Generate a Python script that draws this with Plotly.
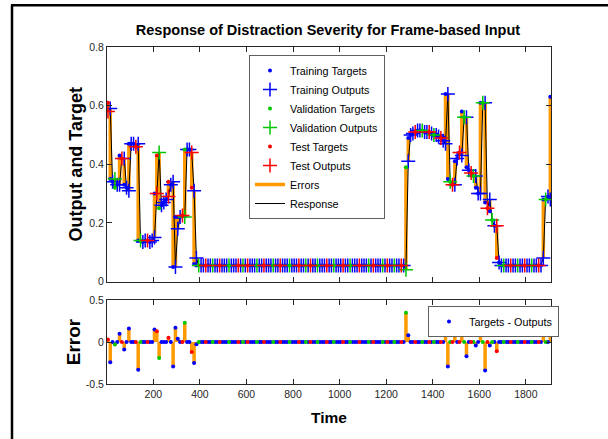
import numpy as np
import plotly.graph_objects as go

# ---------------- data ----------------
time_start = 5
time_step = 10

# target severity, one value every 10 time steps (t = 5, 15, ..., 1905)
target = [
    0.61, 0.35, 0.34, 0.32, 0.33, 0.43, 0.42, 0.33, 0.32, 0.47,
    0.47, 0.47, 0.46, 0.14, 0.14, 0.135, 0.14, 0.14, 0.135, 0.14,
    0.30, 0.43, 0.25, 0.26, 0.27, 0.28, 0.34, 0.33, 0.05, 0.22,
    0.22, 0.22, 0.225, 0.45, 0.45, 0.45, 0.32, 0.06, 0.055, 0.055,
    0.055, 0.055, 0.055, 0.055, 0.055, 0.055, 0.055, 0.055, 0.055, 0.055,
    0.055, 0.055, 0.055, 0.055, 0.055, 0.055, 0.055, 0.055, 0.055, 0.055,
    0.055, 0.055, 0.055, 0.055, 0.055, 0.055, 0.055, 0.055, 0.055, 0.055,
    0.055, 0.055, 0.055, 0.055, 0.055, 0.055, 0.055, 0.055, 0.055, 0.055,
    0.055, 0.055, 0.055, 0.055, 0.055, 0.055, 0.055, 0.055, 0.055, 0.055,
    0.055, 0.055, 0.055, 0.055, 0.055, 0.055, 0.055, 0.055, 0.055, 0.055,
    0.055, 0.055, 0.055, 0.055, 0.055, 0.055, 0.055, 0.055, 0.055, 0.055,
    0.055, 0.055, 0.055, 0.055, 0.055, 0.055, 0.055, 0.055, 0.055, 0.055,
    0.055, 0.055, 0.055, 0.055, 0.055, 0.055, 0.055, 0.055, 0.39, 0.49,
    0.50, 0.505, 0.51, 0.515, 0.515, 0.515, 0.51, 0.51, 0.51, 0.505,
    0.50, 0.50, 0.495, 0.49, 0.48, 0.64, 0.35, 0.34, 0.33, 0.41,
    0.42, 0.44, 0.58, 0.56, 0.39, 0.38, 0.37, 0.36, 0.32, 0.30,
    0.61, 0.61, 0.27, 0.25, 0.24, 0.21, 0.19, 0.08, 0.065, 0.055,
    0.055, 0.055, 0.055, 0.055, 0.055, 0.055, 0.055, 0.055, 0.055, 0.055,
    0.055, 0.055, 0.055, 0.055, 0.055, 0.055, 0.055, 0.28, 0.28, 0.29,
    0.63,
]

# data split of each sample: b = training, g = validation, r = test
split = (
    "rbbgbbrbbb" "bbrbgbbrbb" "brgbbbrbbb" "bbrgbbrbbg" "bbrbbgbbrb"
    "bbgbbbrbgb" "rbbbgbbrbb" "bgbbrbbbgb" "bbrbbgbrbb" "gbbbrbbgbb"
    "brbbgbbbrb" "bbgbrbbbgb" "rbbgbbrbgb" "bbrbbgbbrb" "gbbrbbbgrb"
    "brbgbbrgbb" "bgbrbgbrbb" "gbbrbbgbbr" "bbgbbrbbgb" "b"
)

# non-zero errors (target - output)
error_times = [5, 15, 35, 55, 75, 95, 135, 205, 215, 225, 265, 285, 295, 305,
               335, 365, 375, 385, 1285, 1295, 1455, 1465, 1495, 1525, 1545,
               1585, 1605, 1625, 1645, 1675, 1875, 1905]
error_values = [0.03, -0.24, -0.03, 0.10, -0.09, 0.16, -0.33, 0.15, 0.13, -0.19,
                0.05, -0.29, 0.17, 0.04, 0.23, -0.12, -0.25, -0.025, 0.35, 0.08,
                0.17, -0.29, 0.08, 0.15, -0.17, -0.04, 0.31, -0.34, -0.04, -0.11,
                0.20, 0.35]

set_names = {"b": "Training", "g": "Validation", "r": "Test"}
set_colors = {"b": "#0000ff", "g": "#00c800", "r": "#ff0000"}
x_ticks = [200, 400, 600, 800, 1000, 1200, 1400, 1600, 1800]
y1_ticks = [0, 0.2, 0.4, 0.6, 0.8]
y1_labels = ["0", "0.2", "0.4", "0.6", "0.8"]
y2_ticks = [-0.5, 0, 0.5]
y2_labels = ["-0.5", "0", "0.5"]

# ---------------- derived ----------------
target = np.array(target)
t = time_start + time_step * np.arange(len(target))
err = np.zeros(len(target))
for et, ev in zip(error_times, error_values):
    err[(et - time_start) // time_step] = ev
output = target - err
sets = np.array(list(split))

ORANGE = "#ff9a00"
AX = "#262626"
FONT = "Liberation Sans, Arial, sans-serif"

fig = go.Figure()

# errors (orange) in the response plot
nz = err != 0
ex, ey = [], []
for ti, ta, ou in zip(t[nz], target[nz], output[nz]):
    ex += [ti, ti, None]
    ey += [ta, ou, None]
fig.add_trace(go.Scatter(x=ex, y=ey, mode="lines", line=dict(color=ORANGE, width=3.5),
                         name="Errors", legendrank=7, xaxis="x", yaxis="y"))
# response line (black)
fig.add_trace(go.Scatter(x=t, y=output, mode="lines", line=dict(color="black", width=1),
                         name="Response", legendrank=8, xaxis="x", yaxis="y"))

rank = 1
for key in ["b", "g", "r"]:
    m = sets == key
    c = set_colors[key]
    fig.add_trace(go.Scatter(x=t[m], y=target[m], mode="markers",
                             marker=dict(color=c, size=4),
                             name=f"{set_names[key]} Targets", legendrank=rank,
                             xaxis="x", yaxis="y"))
    fig.add_trace(go.Scatter(x=t[m], y=output[m], mode="markers",
                             marker=dict(symbol="cross-thin", size=10,
                                         line=dict(color=c, width=1.5)),
                             name=f"{set_names[key]} Outputs", legendrank=rank + 1,
                             xaxis="x", yaxis="y"))
    rank += 2

# error plot
sx, sy = [], []
for ti, e in zip(t[nz], err[nz]):
    sx += [ti, ti, None]
    sy += [0, e, None]
fig.add_trace(go.Scatter(x=sx, y=sy, mode="lines", line=dict(color=ORANGE, width=3.5),
                         showlegend=False, xaxis="x2", yaxis="y2"))
for key in ["b", "g", "r"]:
    m = sets == key
    fig.add_trace(go.Scatter(x=t[m], y=err[m], mode="markers",
                             marker=dict(color=set_colors[key], size=4),
                             name="Targets - Outputs", showlegend=(key == "b"),
                             legend="legend2", xaxis="x2", yaxis="y2"))

axis_common = dict(range=[1, 1908], tickvals=x_ticks, ticks="inside", ticklen=5,
                   tickcolor=AX, linecolor=AX, linewidth=1, mirror="allticks",
                   showgrid=False, zeroline=False,
                   tickfont=dict(family=FONT, size=10.5, color=AX))

fig.update_layout(
    width=608, height=439,
    margin=dict(l=107, r=57, t=47, b=55, autoexpand=False),
    paper_bgcolor="white", plot_bgcolor="white",
    title=dict(text="<b>Response of Distraction Severity for Frame-based Input</b>",
               x=(328 - 107) / 444, xref="paper", xanchor="center",
               y=(439 - 30) / 439, yanchor="middle",
               font=dict(family=FONT, size=14.5, color="black")),
    xaxis=dict(**axis_common, anchor="y", showticklabels=False),
    xaxis2=dict(**axis_common, anchor="y2",
                title=dict(text="<b>Time</b>", standoff=13,
                           font=dict(family=FONT, size=15.5, color="black"))),
    yaxis=dict(domain=[0.304, 1], range=[0, 0.8], tickvals=y1_ticks, ticktext=y1_labels,
               ticks="inside", ticklen=5, tickcolor=AX, linecolor=AX, linewidth=1,
               mirror="allticks", showgrid=False, zeroline=False,
               tickfont=dict(family=FONT, size=10.5, color=AX),
               title=dict(text="<b>Output and Target</b>", standoff=1,
                          font=dict(family=FONT, size=18, color="black"))),
    yaxis2=dict(domain=[0, 0.249], range=[-0.5, 0.5], tickvals=y2_ticks, ticktext=y2_labels,
                ticks="inside", ticklen=5, tickcolor=AX, linecolor=AX, linewidth=1,
                mirror="allticks", showgrid=False, zeroline=False,
                tickfont=dict(family=FONT, size=10.5, color=AX),
                title=dict(text="<b>Error</b>", standoff=0,
                           font=dict(family=FONT, size=19, color="black"))),
    legend=dict(x=(249 - 107) / 444, y=(384 - 55) / 337, xanchor="left", yanchor="top",
                bgcolor="white", bordercolor="#606060", borderwidth=1,
                font=dict(family=FONT, size=10.8, color="black"),
                tracegroupgap=0, itemwidth=30),
    legend2=dict(x=(428 - 107) / 444, y=(384 - 306) / 337, xanchor="left", yanchor="top",
                 bgcolor="white", bordercolor="#606060", borderwidth=1,
                 font=dict(family=FONT, size=10.8, color="black"), itemwidth=30),
    shapes=[
        dict(type="line", xref="paper", yref="paper",
             x0=(11 - 107) / 444, x1=(608 - 107) / 444,
             y0=(384 - 5.3) / 337, y1=(384 - 5.3) / 337,
             line=dict(color="black", width=2.5)),
        dict(type="line", xref="paper", yref="paper",
             x0=(12 - 107) / 444, x1=(12 - 107) / 444,
             y0=(384 - 5.3) / 337, y1=(384 - 440) / 337,
             line=dict(color="black", width=2.5)),
    ],
)

fig.write_html("out.html", config={"displayModeBar": False},
               post_script="document.body.style.margin='0px';")
